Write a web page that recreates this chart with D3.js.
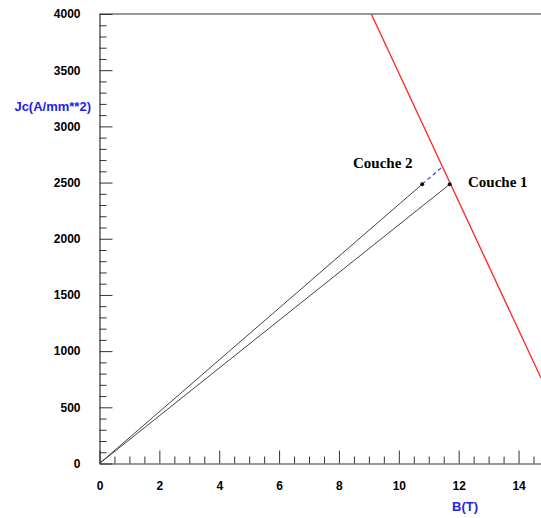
<!DOCTYPE html>
<html>
<head>
<meta charset="utf-8">
<script src="https://cdn.jsdelivr.net/npm/d3@7"></script>
<style>
  html, body { margin: 0; padding: 0; background: #fff; }
  svg { display: block; }
</style>
</head>
<body>
<svg id="chart" width="541" height="518"></svg>
<script>
// ---- data ----
const xDomain = [0, 14.75];
const yDomain = [0, 4000];
const xMajorTicks = [0, 2, 4, 6, 8, 10, 12, 14];
const xMinorStep = 0.5;
const yMajorTicks = [0, 500, 1000, 1500, 2000, 2500, 3000, 3500, 4000];
const yMinorStep = 100;

// critical surface line (red): B, Jc
const criticalLine = [[9.08, 4000], [14.75, 760]];
// load lines from origin to the operating points
const couche1 = [[0, 0], [11.70, 2485]];
const couche2 = [[0, 0], [10.78, 2485]];
// dashed extension of couche 2 to the critical line
const couche2Ext = [[10.78, 2485], [11.43, 2635]];
const points = [
  { name: "Couche 1", B: 11.70, Jc: 2485 },
  { name: "Couche 2", B: 10.78, Jc: 2485 }
];
const xTitle = "B(T)";
const yTitle = "Jc(A/mm**2)";

// ---- layout ----
const svg = d3.select("#chart");
const x = d3.scaleLinear().domain(xDomain).range([99.5, 541]);
const y = d3.scaleLinear().domain(yDomain).range([463.5, 14]);

const axisColor = "#333";
const font = "'Liberation Sans', Arial, Helvetica, sans-serif";

// minor ticks
const xMinor = d3.range(0, xDomain[1] + 1e-9, xMinorStep).filter(v => xMajorTicks.indexOf(v) < 0);
const yMinor = d3.range(0, yDomain[1] + 1e-9, yMinorStep).filter(v => yMajorTicks.indexOf(v) < 0);

// X axis
const gx = svg.append("g").attr("transform", `translate(0,${y(0)})`);
gx.call(d3.axisBottom(x).tickValues(xMajorTicks).tickSizeInner(-13).tickSizeOuter(0)
  .tickPadding(18).tickFormat(d3.format("d")));
gx.append("g").call(d3.axisBottom(x).tickValues(xMinor).tickSizeInner(-7).tickSizeOuter(0).tickFormat(""))
  .select(".domain").remove();

// Y axis
const gy = svg.append("g").attr("transform", `translate(${x(0)},0)`);
gy.call(d3.axisLeft(y).tickValues(yMajorTicks).tickSizeInner(-13).tickSizeOuter(0)
  .tickPadding(19).tickFormat(d3.format("d")));
gy.append("g").call(d3.axisLeft(y).tickValues(yMinor).tickSizeInner(-7).tickSizeOuter(0).tickFormat(""))
  .select(".domain").remove();

svg.selectAll(".domain").attr("stroke", axisColor).attr("stroke-width", 1.2);
svg.selectAll(".tick line").attr("stroke", axisColor).attr("stroke-width", 1);
svg.selectAll(".tick text").attr("font-family", font).attr("font-weight", "bold")
  .attr("font-size", 12).attr("fill", "#000");

// top frame line
svg.append("line")
  .attr("x1", x(0)).attr("x2", 541)
  .attr("y1", y(yDomain[1])).attr("y2", y(yDomain[1]))
  .attr("stroke", axisColor).attr("stroke-width", 1.2);

// clip for data
svg.append("clipPath").attr("id", "plotclip").append("rect")
  .attr("x", x(0)).attr("y", y(yDomain[1])).attr("width", 541 - x(0)).attr("height", y(0) - y(yDomain[1]));

const line = d3.line().x(d => x(d[0])).y(d => y(d[1]));
const plot = svg.append("g").attr("clip-path", "url(#plotclip)");

plot.append("path").datum(couche1).attr("d", line)
  .attr("fill", "none").attr("stroke", "#444").attr("stroke-width", 1);
plot.append("path").datum(couche2).attr("d", line)
  .attr("fill", "none").attr("stroke", "#444").attr("stroke-width", 1);
plot.append("path").datum(couche2Ext).attr("d", line)
  .attr("fill", "none").attr("stroke", "#3344ee").attr("stroke-width", 1.2)
  .attr("stroke-dasharray", "4,3");
plot.append("path").datum(criticalLine).attr("d", line)
  .attr("fill", "none").attr("stroke", "#ff2222").attr("stroke-width", 1.3);

svg.selectAll(".pt").data(points).enter().append("circle")
  .attr("class", "pt")
  .attr("cx", d => x(d.B)).attr("cy", d => y(d.Jc)).attr("r", 2)
  .attr("fill", "#111");

// point labels
const serif = "'Liberation Serif', 'Times New Roman', Times, serif";
svg.append("text").attr("x", 353).attr("y", 168)
  .attr("font-family", serif).attr("font-weight", "bold").attr("font-size", 15)
  .text(points[1].name);
svg.append("text").attr("x", 468).attr("y", 187)
  .attr("font-family", serif).attr("font-weight", "bold").attr("font-size", 15)
  .text(points[0].name);

// axis titles
svg.append("text").attr("x", 478).attr("y", 511).attr("text-anchor", "end")
  .attr("font-family", font).attr("font-weight", "bold").attr("font-size", 13)
  .attr("fill", "#2222ee").text(xTitle);
svg.append("text").attr("x", 91).attr("y", 111).attr("text-anchor", "end")
  .attr("font-family", font).attr("font-weight", "bold").attr("font-size", 13)
  .attr("fill", "#2222ee").text(yTitle);
</script>
</body>
</html>
